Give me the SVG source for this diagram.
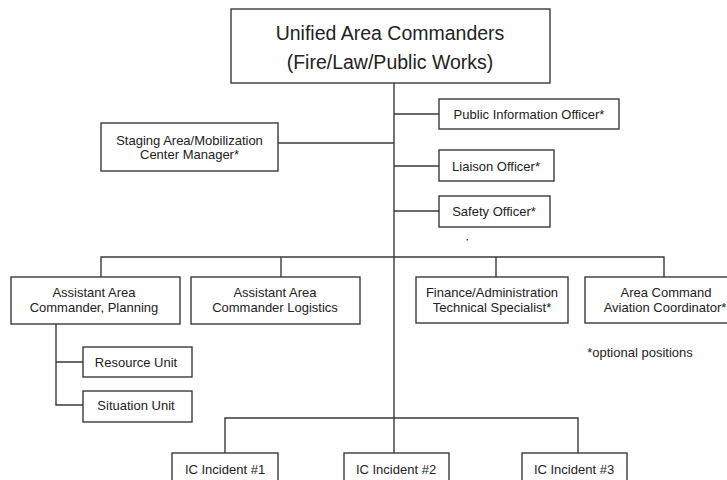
<svg xmlns="http://www.w3.org/2000/svg" width="727" height="480" viewBox="0 0 727 480">
<style>
.box{fill:#fff;stroke:#3a3a3a;stroke-width:1.4}
.ln{fill:none;stroke:#3a3a3a;stroke-width:1.4}
text{font-family:"Liberation Sans",Arial,sans-serif;fill:#222;text-anchor:middle}
.s{font-size:13px}
.b{font-size:19.5px}
</style>
<rect width="727" height="480" fill="#fff"/>
<g id="connectors">
<path class="ln" d="M394 83V418"/>
<path class="ln" d="M394 114H439M278 143H394M394 166H439M394 211H439"/>
<path class="ln" d="M101 277V257H664V277M281 257V277M496 257V277"/>
<path class="ln" d="M56 324V405H83M56 362H83"/>
<path class="ln" d="M225 453V418H578V453M394 418V453"/>
</g>
<g id="unified"><rect class="box" x="231" y="9" width="319" height="74"/><text class="b" x="390" y="40">Unified Area Commanders</text><text class="b" x="390" y="69">(Fire/Law/Public Works)</text></g>
<g id="pio"><rect class="box" x="439" y="99" width="180" height="30"/><text class="s" x="529" y="119">Public Information Officer*</text></g>
<g id="staging"><rect class="box" x="101" y="123" width="177" height="48"/><text class="s" x="189.5" y="145">Staging Area/Mobilization</text><text class="s" x="189.5" y="159">Center Manager*</text></g>
<g id="liaison"><rect class="box" x="439" y="150" width="115" height="31"/><text class="s" x="496" y="171">Liaison Officer*</text></g>
<g id="safety"><rect class="box" x="439" y="196" width="111" height="31"/><text class="s" x="494" y="216">Safety Officer*</text></g>
<rect x="466.5" y="239" width="1.5" height="1.5" fill="#3030ff"/>
<g id="planning"><rect class="box" x="11" y="277" width="169" height="47"/><text class="s" x="94" y="297">Assistant Area</text><text class="s" x="94" y="312">Commander, Planning</text></g>
<g id="logistics"><rect class="box" x="191" y="277" width="169" height="47"/><text class="s" x="275" y="297">Assistant Area</text><text class="s" x="275" y="312">Commander Logistics</text></g>
<g id="finance"><rect class="box" x="416" y="277" width="152" height="46"/><text class="s" x="492" y="297">Finance/Administration</text><text class="s" x="492" y="312">Technical Specialist*</text></g>
<g id="aviation"><rect class="box" x="585" y="277" width="158" height="46"/><text class="s" x="666" y="297">Area Command</text><text class="s" x="665" y="312">Aviation Coordinator*</text></g>
<text class="s" x="640" y="357">*optional positions</text>
<g id="resource"><rect class="box" x="83" y="347" width="109" height="30"/><text class="s" x="136" y="367">Resource Unit</text></g>
<g id="situation"><rect class="box" x="83" y="391" width="109" height="31"/><text class="s" x="136" y="410">Situation Unit</text></g>
<g id="ic1"><rect class="box" x="172" y="453" width="106" height="40"/><text class="s" x="225" y="474">IC Incident #1</text></g>
<g id="ic2"><rect class="box" x="344" y="453" width="105" height="40"/><text class="s" x="396" y="474">IC Incident #2</text></g>
<g id="ic3"><rect class="box" x="522" y="453" width="105" height="40"/><text class="s" x="574" y="474">IC Incident #3</text></g>
</svg>
